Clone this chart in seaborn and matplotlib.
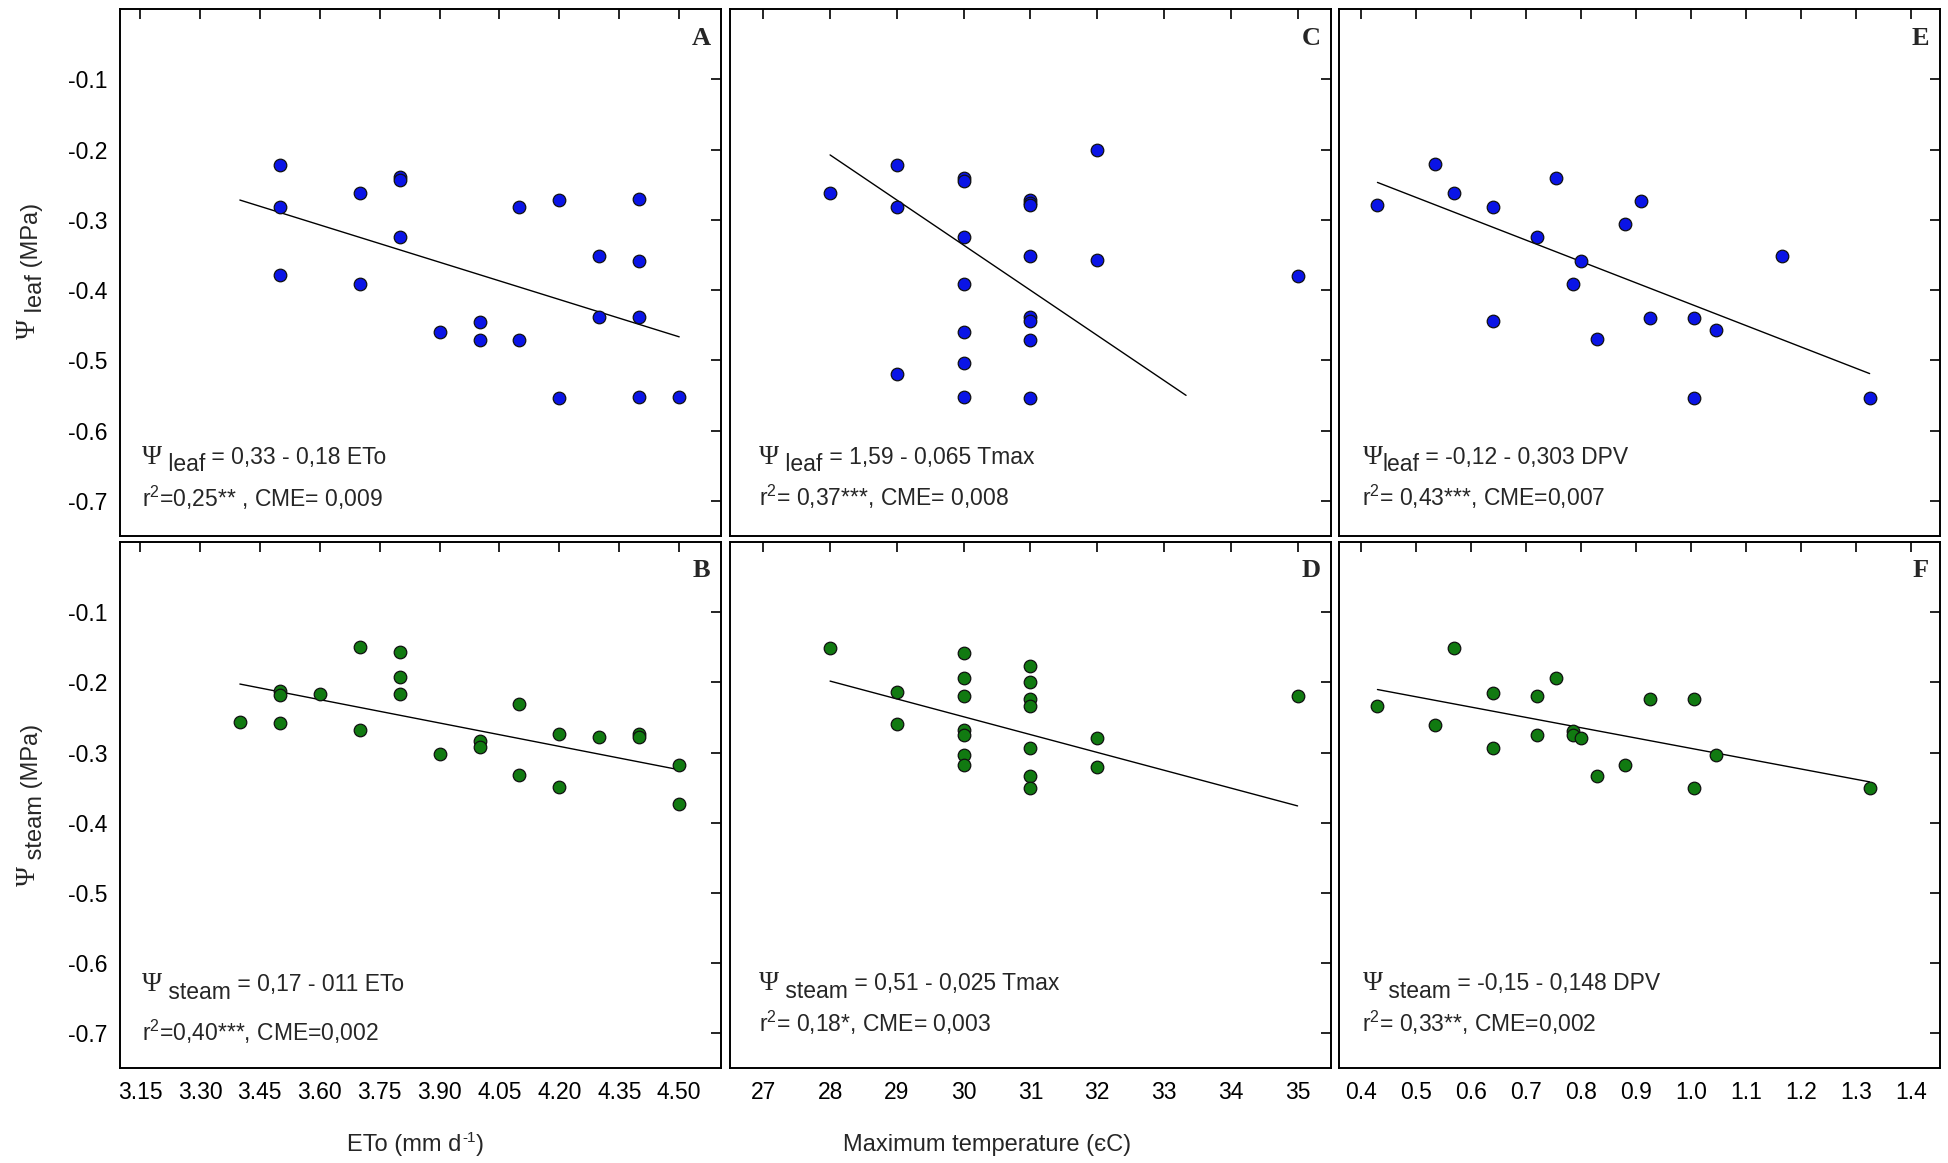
import numpy as np
import pandas as pd
import matplotlib
matplotlib.use('Agg')
import matplotlib.pyplot as plt
import seaborn as sns

# ETo panels (A: leaf, B: steam)
eto_leaf_x = [3.5, 3.5, 3.5, 3.7, 3.7, 3.8, 3.8, 3.8, 3.9, 4.0, 4.0, 4.1, 4.1, 4.2, 4.2,
              4.3, 4.3, 4.4, 4.4, 4.4, 4.4, 4.5]
eto_leaf_y = [-0.222, -0.281, -0.379, -0.262, -0.392, -0.239, -0.243, -0.325, -0.459, -0.446,
              -0.471, -0.281, -0.471, -0.272, -0.554, -0.352, -0.438, -0.270, -0.358, -0.438,
              -0.552, -0.552]
eto_steam_x = [3.4, 3.5, 3.5, 3.5, 3.6, 3.7, 3.7, 3.8, 3.8, 3.8, 3.9, 4.0, 4.0, 4.1, 4.1,
               4.2, 4.2, 4.3, 4.4, 4.4, 4.5, 4.5]
eto_steam_y = [-0.257, -0.212, -0.218, -0.258, -0.217, -0.150, -0.268, -0.157, -0.193, -0.217,
               -0.302, -0.283, -0.292, -0.231, -0.332, -0.274, -0.349, -0.278, -0.274, -0.278,
               -0.318, -0.373]

# Tmax panels (C: leaf, D: steam)
tmax_leaf_x = [28, 29, 29, 29, 30, 30, 30, 30, 30, 30, 30, 31, 31, 31, 31, 31, 31, 31, 31,
               32, 32, 35]
tmax_leaf_y = [-0.262, -0.222, -0.281, -0.519, -0.240, -0.244, -0.325, -0.392, -0.459, -0.504,
               -0.552, -0.272, -0.276, -0.279, -0.351, -0.438, -0.444, -0.471, -0.554, -0.200,
               -0.357, -0.380]
tmax_steam_x = [28, 29, 29, 30, 30, 30, 30, 30, 30, 30, 31, 31, 31, 31, 31, 31, 31, 32, 32, 35]
tmax_steam_y = [-0.151, -0.214, -0.259, -0.158, -0.194, -0.219, -0.268, -0.275, -0.303, -0.318,
                -0.176, -0.200, -0.224, -0.233, -0.293, -0.334, -0.350, -0.279, -0.320, -0.219]

# DPV panels (E: leaf, F: steam)
dpv_leaf_x = [0.43, 0.535, 0.57, 0.64, 0.64, 0.72, 0.755, 0.785, 0.80, 0.83, 0.88, 0.91,
              0.925, 1.005, 1.005, 1.045, 1.165, 1.325]
dpv_leaf_y = [-0.279, -0.220, -0.262, -0.281, -0.444, -0.325, -0.240, -0.392, -0.358, -0.469,
              -0.306, -0.273, -0.439, -0.439, -0.554, -0.457, -0.351, -0.554]
dpv_steam_x = [0.43, 0.535, 0.57, 0.64, 0.64, 0.72, 0.72, 0.755, 0.785, 0.785, 0.80, 0.83,
               0.88, 0.925, 1.005, 1.005, 1.045, 1.325]
dpv_steam_y = [-0.233, -0.261, -0.151, -0.215, -0.293, -0.219, -0.275, -0.194, -0.269, -0.275,
               -0.279, -0.334, -0.318, -0.224, -0.224, -0.350, -0.304, -0.350]

# fitted lines: intercept, slope, x start, x end
fit_intercept = {'A': 0.33, 'B': 0.175, 'C': 1.59, 'D': 0.513, 'E': -0.116, 'F': -0.147}
fit_slope = {'A': -0.177, 'B': -0.111, 'C': -0.0642, 'D': -0.0254, 'E': -0.304, 'F': -0.147}
fit_range = {'A': (3.40, 4.50), 'B': (3.40, 4.50), 'C': (28.0, 33.33), 'D': (28.0, 35.0),
             'E': (0.43, 1.325), 'F': (0.43, 1.325)}

# equation text: (subscript, rest of first line, second line)
eq_sub = {'A': ' leaf', 'B': ' steam', 'C': ' leaf', 'D': ' steam', 'E': 'leaf', 'F': ' steam'}
eq_rest = {'A': ' = 0,33 - 0,18 ETo', 'B': ' = 0,17 - 011 ETo', 'C': ' = 1,59 - 0,065 Tmax',
           'D': ' = 0,51 - 0,025 Tmax', 'E': ' = -0,12 - 0,303 DPV', 'F': ' = -0,15 - 0,148 DPV'}
eq_stats = {'A': 'r$^{2}$=0,25** , CME= 0,009', 'B': 'r$^{2}$=0,40***, CME=0,002',
            'C': 'r$^{2}$= 0,37***, CME= 0,008', 'D': 'r$^{2}$= 0,18*, CME= 0,003',
            'E': 'r$^{2}$= 0,43***, CME=0,007', 'F': 'r$^{2}$= 0,33**, CME=0,002'}

eto_ticks = [3.15, 3.30, 3.45, 3.60, 3.75, 3.90, 4.05, 4.20, 4.35, 4.50]
tmax_ticks = [27, 28, 29, 30, 31, 32, 33, 34, 35]
dpv_ticks = [0.4, 0.5, 0.6, 0.7, 0.8, 0.9, 1.0, 1.1, 1.2, 1.3, 1.4]
y_ticks = [-0.1, -0.2, -0.3, -0.4, -0.5, -0.6, -0.7]

sns.set_style('white')
plt.rcParams['font.family'] = ['Liberation Sans', 'DejaVu Sans']
plt.rcParams['mathtext.fontset'] = 'custom'
plt.rcParams['mathtext.rm'] = 'Liberation Sans'
plt.rcParams['mathtext.it'] = 'Liberation Sans:italic'

blue = '#0a14e6'
green = '#117a11'
TXT = 16.5
PSI = 19.5

fig = plt.figure(figsize=(19.49, 11.63), dpi=100)
lefts = [0.0616, 0.3745, 0.687]
width = 0.3084
rows = {'top': (0.5391, 0.4531), 'bottom': (0.0813, 0.4527)}

panels = [
    ('A', 0, 'top', eto_leaf_x, eto_leaf_y, blue, eto_ticks, (3.10, 4.605), '%.2f'),
    ('B', 0, 'bottom', eto_steam_x, eto_steam_y, green, eto_ticks, (3.10, 4.605), '%.2f'),
    ('C', 1, 'top', tmax_leaf_x, tmax_leaf_y, blue, tmax_ticks, (26.5, 35.5), '%d'),
    ('D', 1, 'bottom', tmax_steam_x, tmax_steam_y, green, tmax_ticks, (26.5, 35.5), '%d'),
    ('E', 2, 'top', dpv_leaf_x, dpv_leaf_y, blue, dpv_ticks, (0.36, 1.453), '%.1f'),
    ('F', 2, 'bottom', dpv_steam_x, dpv_steam_y, green, dpv_ticks, (0.36, 1.453), '%.1f'),
]
eq_x = {'A': 0.036, 'B': 0.036, 'C': 0.049, 'D': 0.049, 'E': 0.039, 'F': 0.039}
eq_y = {'A': (0.137, 0.055), 'C': (0.137, 0.057), 'E': (0.137, 0.057),
        'B': (0.147, 0.052), 'D': (0.149, 0.07), 'F': (0.149, 0.07)}


def psi_equation(ax, x, y, sub, rest):
    # Psi, lowered subscript word at full size, then the rest on the baseline
    first = ax.text(x, y, 'Ψ', transform=ax.transAxes, fontsize=PSI, va='baseline',
                    family='Liberation Serif')
    base = ax.text(x, y, ' ', transform=ax.transAxes, fontsize=TXT, va='baseline')
    sub_t = ax.annotate(sub, xy=(1, 0), xycoords=(first, base), xytext=(0, -5.5),
                        textcoords='offset points', va='bottom', ha='left', fontsize=TXT)
    ax.annotate(rest, xy=(1, 0), xycoords=(sub_t, base), xytext=(0, 0),
                textcoords='offset points', va='bottom', ha='left', fontsize=TXT)


def psi_ylabel(ax, x, y, sub):
    first = fig.text(x, y, 'Ψ', rotation=90, ha='center', va='bottom', fontsize=19.5,
                     family='Liberation Serif')
    sub_t = ax.annotate(sub, xy=(0.5, 1), xycoords=(first, first), xytext=(13, 0),
                        textcoords='offset points', rotation=90, ha='right', va='bottom',
                        fontsize=17, annotation_clip=False)
    ax.annotate(' (MPa)', xy=(1, 1), xycoords=(sub_t, sub_t), xytext=(-2.5, 0),
                textcoords='offset points', rotation=90, ha='right', va='bottom',
                fontsize=17, annotation_clip=False)


for name, col, row, xs, ys, color, xticks, xlim, fmt in panels:
    b, h = rows[row]
    ax = fig.add_axes([lefts[col], b, width, h])
    df = pd.DataFrame({'x': xs, 'y': ys})
    sns.scatterplot(data=df, x='x', y='y', ax=ax, color=color, s=82,
                    edgecolor='#101010', linewidth=0.9, zorder=3)
    x0, x1 = fit_range[name]
    line = pd.DataFrame({'x': [x0, x1]})
    line['y'] = fit_intercept[name] + fit_slope[name] * line['x']
    sns.lineplot(data=line, x='x', y='y', ax=ax, color='black', linewidth=1.0, zorder=2)

    ax.set_xlim(*xlim)
    ax.set_ylim(-0.75, 0.0)
    ax.set_xticks(xticks)
    ax.set_yticks(y_ticks)
    ax.set_xticklabels([fmt % t for t in xticks])
    ax.set_yticklabels(['%.1f' % t for t in y_ticks])
    ax.tick_params(direction='in', length=7, width=1.2, top=True, right=True,
                   labelsize=16.5, pad=9, colors='black')
    for sp in ax.spines.values():
        sp.set_visible(True)
        sp.set_color('black')
        sp.set_linewidth(1.4)
    ax.set_xlabel('')
    ax.set_ylabel('')
    if row == 'top':
        ax.tick_params(labelbottom=False)
    if col != 0:
        ax.tick_params(labelleft=False)

    ax.text(0.967, 0.945, name, transform=ax.transAxes, ha='center', va='center',
            fontsize=19, fontweight='bold', family='Liberation Serif')
    y1, y2 = eq_y[name]
    psi_equation(ax, eq_x[name], y1, eq_sub[name], eq_rest[name])
    ax.text(eq_x[name], y2, eq_stats[name], transform=ax.transAxes, fontsize=TXT,
            va='baseline')

    if col == 0:
        if row == 'top':
            psi_ylabel(ax, 0.0146, 0.7085, ' leaf')
        else:
            psi_ylabel(ax, 0.0146, 0.2385, ' steam')

    if name == 'B':
        t1 = fig.text(0.178, 0.0103, 'ETo (mm d', fontsize=17, va='baseline')
        t2 = ax.annotate('-1', xy=(1, 0), xycoords=(t1, t1), xytext=(0.5, 8),
                         textcoords='offset points', va='bottom', ha='left', fontsize=11,
                         annotation_clip=False)
        ax.annotate(')', xy=(1, 0), xycoords=(t2, t1), xytext=(0.5, 0),
                    textcoords='offset points', va='bottom', ha='left', fontsize=17,
                    annotation_clip=False)
    if name == 'D':
        fig.text(0.4323, 0.0103, 'Maximum temperature (єC)', fontsize=17, va='baseline')

fig.savefig('out.png', dpi=100)
